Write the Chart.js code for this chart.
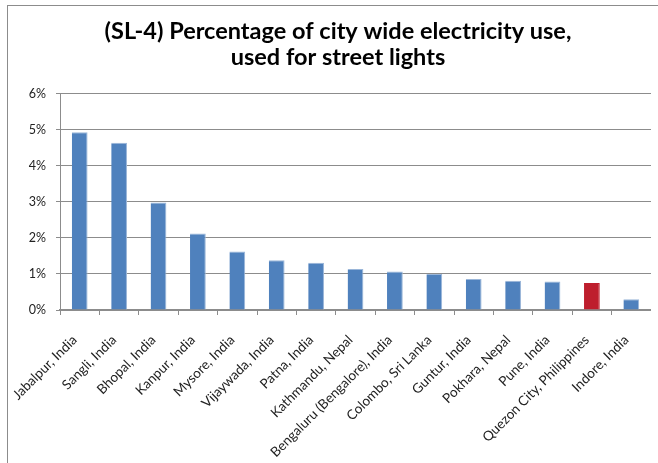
<!DOCTYPE html>
<html>
<head>
<meta charset="utf-8">
<script src="https://cdn.jsdelivr.net/npm/chart.js@4/dist/chart.umd.min.js"></script>
<style>
  html, body { margin: 0; padding: 0; background: #fff; overflow: hidden; }
  #frame {
    position: absolute; left: 7px; top: 5px; width: 700px; height: 500px;
    border-left: 1px solid #8c8c8c; border-top: 1px solid #8c8c8c;
  }
  #wrap { position: absolute; left: 0; top: 6px; width: 651px; height: 457px; }
</style>
</head>
<body>
<div id="frame"></div>
<div id="wrap"><canvas id="slChart"></canvas></div>
<script>
// Share of city electricity going to street lighting
const cities = [
  "Jabalpur, India", "Sangli, India", "Bhopal, India", "Kanpur, India",
  "Mysore, India", "Vijaywada, India", "Patna, India", "Kathmandu, Nepal",
  "Bengaluru (Bengalore), India", "Colombo, Sri Lanka", "Guntur, India",
  "Pokhara, Nepal", "Pune, India", "Quezon City, Philippines", "Indore, India"
];
const shares = [4.93, 4.64, 2.98, 2.12, 1.62, 1.38, 1.31, 1.14, 1.07, 1.0, 0.86, 0.81, 0.79, 0.75, 0.30];
const yTicks = [0, 1, 2, 3, 4, 5, 6];
const highlightCity = "Quezon City, Philippines";

const barColors = cities.map(c => c === highlightCity ? "#be1e2d" : "#4f81bd");
// thin lighter rim along the top/right of the blue bars
const rimColors = cities.map(c => c === highlightCity ? "#be1e2d" : "#9ab6d9");
const font = "Lato, 'Liberation Sans', sans-serif";

new Chart(document.getElementById("slChart"), {
  type: "bar",
  data: {
    labels: cities,
    datasets: [{
      data: shares,
      backgroundColor: barColors,
      borderColor: rimColors,
      borderWidth: { top: 1, right: 1, left: 0, bottom: 0 },
      borderSkipped: false,
      barPercentage: 0.4,
      categoryPercentage: 1.0
    }]
  },
  options: {
    responsive: true,
    maintainAspectRatio: false,
    animation: false,
    layout: { padding: { left: 25, right: 0, top: 0, bottom: 0 } },
    plugins: {
      legend: { display: false },
      tooltip: { enabled: false },
      title: {
        display: true,
        text: ["(SL-4) Percentage of city wide electricity use,", "used for street lights"],
        color: "#000",
        font: { family: font, size: 23.5, weight: "bold", lineHeight: 1.12 },
        padding: { top: 12, bottom: 23 }
      }
    },
    scales: {
      x: {
        grid: {
          offset: true,
          drawOnChartArea: false,
          color: "#8c8c8c",
          tickLength: 5
        },
        border: { color: "#8c8c8c", width: 2 },
        ticks: {
          autoSkip: false,
          maxRotation: 45,
          minRotation: 45,
          color: "#222",
          padding: 17,
          labelOffset: -5,
          font: { family: font, size: 13.5 }
        },
        // rotated labels may hang past the plot edge; don't let them shrink it
        afterFit: s => { s.height = 153; s.paddingLeft = 0; s.paddingRight = 0; }
      },
      y: {
        min: 0,
        max: 6,
        afterBuildTicks: s => { s.ticks = yTicks.map(v => ({ value: v })); },
        grid: { color: "#8c8c8c", tickLength: 4 },
        border: { color: "#8c8c8c", width: 1 },
        ticks: {
          color: "#222",
          padding: 10,
          font: { family: font, size: 12.5 },
          callback: v => v + "%"
        },
        afterFit: s => { s.width = 35; }
      }
    }
  }
});
</script>
</body>
</html>
